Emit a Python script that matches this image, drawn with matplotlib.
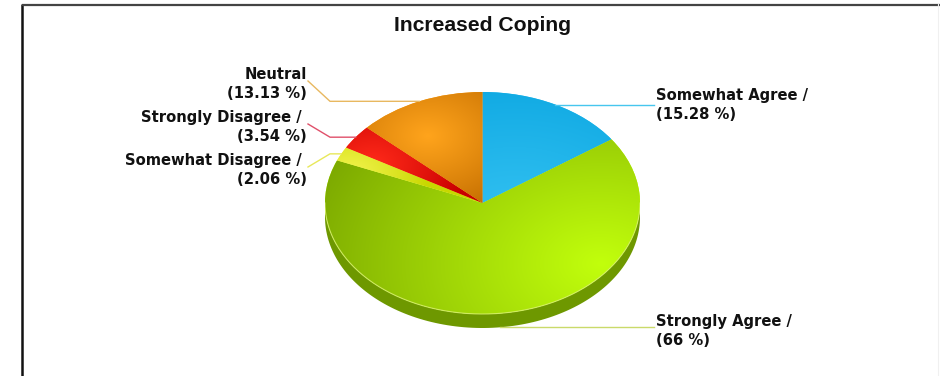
import numpy as np
import matplotlib
matplotlib.use("Agg")
import matplotlib.pyplot as plt
from matplotlib.colors import to_rgb
from matplotlib.patches import Polygon

# ---- data ----
title = "Increased Coping"
categories = ["Somewhat Agree", "Strongly Agree", "Somewhat Disagree",
              "Strongly Disagree", "Neutral"]
percents = [15.28, 66, 2.06, 3.54, 13.13]
separators = [" / ", " / ", " / ", " / ", ""]

# ---- styling ----
# (dark, light, highlight centre, highlight radius) for each slice
shading = [
    ("#0EA8E2", "#34C2F2", (0.2, -0.2), 1.3),
    ("#78A400", "#C2FF0C", (0.75, -0.55), 2.0),
    ("#C8D800", "#F4F450", (-0.85, 0.25), 0.5),
    ("#C80000", "#FF2A1A", (-0.7, 0.35), 0.6),
    ("#C46E00", "#FFA41C", (-0.35, 0.6), 0.7),
]
side_colors = ["#0A86B8", "#6E9800", "#A8B400", "#A00000", "#9A5600"]
leader_colors = ["#46C6EE", "#CADA6A", "#E8E85A", "#E0506A", "#E8B860"]

# label placement in figure pixels (x, y of block centre, side)
label_pos = [(656, 105, "right"), (656, 331, "right"), (307, 170, "left"),
             (307, 127, "left"), (307, 84, "left")]

W, H = 940, 376
fig = plt.figure(figsize=(W / 100, H / 100), dpi=100)
fig.patch.set_facecolor("white")

depth = 0.126
top_px, bot_px, left_px, right_px = 92, 328, 325, 640
axp = fig.add_axes([left_px / W, (H - bot_px) / H,
                    (right_px - left_px) / W, (bot_px - top_px) / H])

base = [s[1] for s in shading]
wedges, _ = axp.pie(percents, startangle=90, counterclock=False,
                    colors=base, radius=1, center=(0, 0),
                    wedgeprops=dict(linewidth=0))
axp.set_aspect("auto")

# side band of the disc (front half only)
for w, sc in zip(wedges, side_colors):
    t1, t2 = w.theta1, w.theta2
    for k in (-360, 0, 360):
        a, b = max(t1, 180 + k), min(t2, 360 + k)
        if b > a:
            t = np.radians(np.linspace(a, b, 120))
            top = np.column_stack([np.cos(t), np.sin(t)])
            bot = np.column_stack([np.cos(t[::-1]), np.sin(t[::-1]) - depth])
            axp.add_patch(Polygon(np.vstack([top, bot]), closed=True,
                                  facecolor=sc, edgecolor="none", zorder=0.5))

# gradient fill clipped to each wedge
gx, gy = np.meshgrid(np.linspace(-1, 1, 400), np.linspace(1, -1, 400))
for w, (cd, cl, (hx, hy), hr) in zip(wedges, shading):
    d = np.hypot(gx - hx, gy - hy)
    t = np.clip(1 - d / hr, 0, 1) ** 0.9
    c0, c1 = np.array(to_rgb(cd)), np.array(to_rgb(cl))
    img = c0 + (c1 - c0) * t[..., None]
    im = axp.imshow(img, extent=(-1, 1, -1, 1), aspect="auto",
                    interpolation="bilinear", zorder=3)
    im.set_clip_path(w)

# light rim along the front edge of the top surface
tt = np.radians(np.linspace(180, 360, 200))
axp.plot(np.cos(tt), np.sin(tt), color="#D8F070", lw=0.8, alpha=0.8, zorder=4)

axp.set_xlim(-1, 1)
axp.set_ylim(-1 - depth, 1)
axp.axis("off")

# overlay in pixel coordinates for frame, title, labels, leaders
ov = fig.add_axes([0, 0, 1, 1])
ov.set_xlim(0, W)
ov.set_ylim(H, 0)
ov.axis("off")

ov.plot([22, 22], [4, H], color="#111111", lw=1.8, solid_capstyle="butt")
ov.plot([22, W], [4.5, 4.5], color="#444444", lw=1.6, solid_capstyle="butt")
ov.plot([938, 938], [4, H], color="#F0F0F0", lw=0.8)

ov.text(483, 31, title, ha="center", va="baseline", fontsize=15.2,
        fontweight="bold", family="Liberation Sans", color="#111111")

to_px = ov.transData.inverted()
for w, cat, pct, sep, (lx, ly, side), lc in zip(
        wedges, categories, percents, separators, label_pos, leader_colors):
    mid = np.radians((w.theta1 + w.theta2) / 2)
    mx, my = np.cos(mid), np.sin(mid)
    if my < 0:
        my -= depth
    ax_, ay_ = to_px.transform(axp.transData.transform((mx, my)))
    text = f"{cat}{sep}\n({pct:g} %)"
    if side == "right":
        ov.plot([ax_, lx - 2], [ay_, ay_], color=lc, lw=1.0)
        ov.text(lx, ly, text, ha="left", va="center", multialignment="left",
                fontsize=10.6, fontweight="bold", family="DejaVu Sans",
                color="#111111", linespacing=1.4)
    else:
        elbow = 330
        ov.plot([ax_, elbow, lx + 1], [ay_, ay_, ly - 3], color=lc, lw=1.0)
        ov.text(lx, ly, text, ha="right", va="center", multialignment="right",
                fontsize=10.6, fontweight="bold", family="DejaVu Sans",
                color="#111111", linespacing=1.4)

fig.savefig("out.png", dpi=100, facecolor="white")
